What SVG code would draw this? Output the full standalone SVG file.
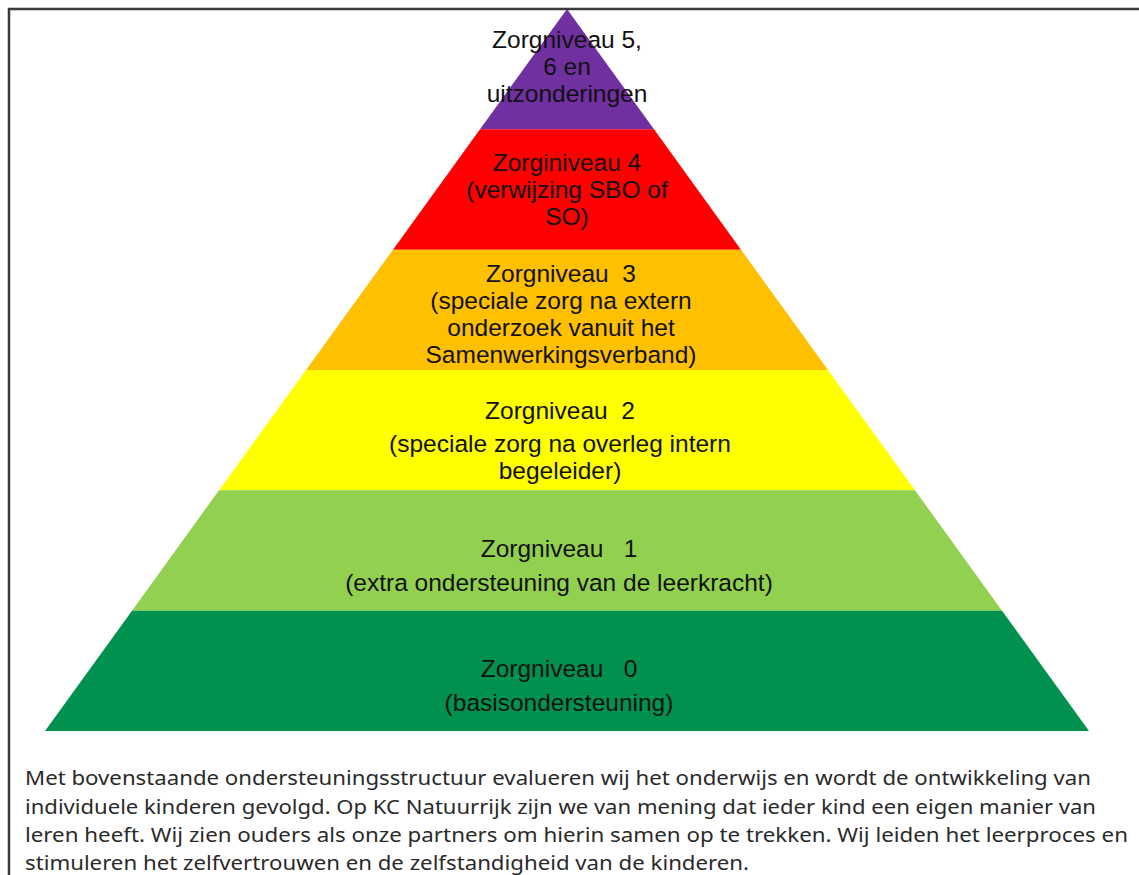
<svg xmlns="http://www.w3.org/2000/svg" width="1139" height="875" viewBox="0 0 1139 875">
<style>
.lbl{font-family:"Liberation Sans",Arial,sans-serif;font-size:24.5px;fill:#111;text-anchor:middle;white-space:pre}
.para{font-family:"Noto Sans","Open Sans",sans-serif;font-size:20.5px;fill:#2a2a2a}
.frame{stroke:#3a3a3a;stroke-width:2.5;fill:none}
</style>
<rect width="1139" height="875" fill="#ffffff"/>
<g id="frame">
<path class="frame" d="M9 875 V9 H1139"/>
</g>
<g id="level5">
<polygon points="567,9 654,129.3 480,129.3" fill="#7030A0"/>
<text class="lbl" x="567" y="48">Zorgniveau 5,</text>
<text class="lbl" x="567" y="75">6 en</text>
<text class="lbl" x="567" y="102">uitzonderingen</text>
</g>
<g id="level4">
<polygon points="480,129.3 654,129.3 741,249.7 393,249.7" fill="#FF0000"/>
<text class="lbl" x="567" y="171">Zorginiveau 4</text>
<text class="lbl" x="567" y="198">(verwijzing SBO of</text>
<text class="lbl" x="567" y="225">SO)</text>
</g>
<g id="level3">
<polygon points="393,249.7 741,249.7 828,370 306,370" fill="#FFC000"/>
<text class="lbl" x="561" y="282">Zorgniveau  3</text>
<text class="lbl" x="561" y="309">(speciale zorg na extern</text>
<text class="lbl" x="561" y="336">onderzoek vanuit het</text>
<text class="lbl" x="561" y="363">Samenwerkingsverband)</text>
</g>
<g id="level2">
<polygon points="306,370 828,370 915,490.3 219,490.3" fill="#FFFF00"/>
<text class="lbl" x="560" y="419">Zorgniveau  2</text>
<text class="lbl" x="560" y="452">(speciale zorg na overleg intern</text>
<text class="lbl" x="560" y="479">begeleider)</text>
</g>
<g id="level1">
<polygon points="219,490.3 915,490.3 1002,610.7 132,610.7" fill="#92D050"/>
<text class="lbl" x="559" y="557">Zorgniveau   1</text>
<text class="lbl" x="559" y="591">(extra ondersteuning van de leerkracht)</text>
</g>
<g id="level0">
<polygon points="132,610.7 1002,610.7 1089,731 45,731" fill="#00914F"/>
<text class="lbl" x="559" y="677">Zorgniveau   0</text>
<text class="lbl" x="559" y="711">(basisondersteuning)</text>
</g>
<g id="paragraph">
<text class="para" x="25" y="785" textLength="1066" lengthAdjust="spacingAndGlyphs">Met bovenstaande ondersteuningsstructuur evalueren wij het onderwijs en wordt de ontwikkeling van</text>
<text class="para" x="25" y="814" textLength="1071" lengthAdjust="spacingAndGlyphs">individuele kinderen gevolgd. Op KC Natuurrijk zijn we van mening dat ieder kind een eigen manier van</text>
<text class="para" x="25" y="842" textLength="1103" lengthAdjust="spacingAndGlyphs">leren heeft. Wij zien ouders als onze partners om hierin samen op te trekken. Wij leiden het leerproces en</text>
<text class="para" x="25" y="870" textLength="724" lengthAdjust="spacingAndGlyphs">stimuleren het zelfvertrouwen en de zelfstandigheid van de kinderen.</text>
</g>
</svg>
